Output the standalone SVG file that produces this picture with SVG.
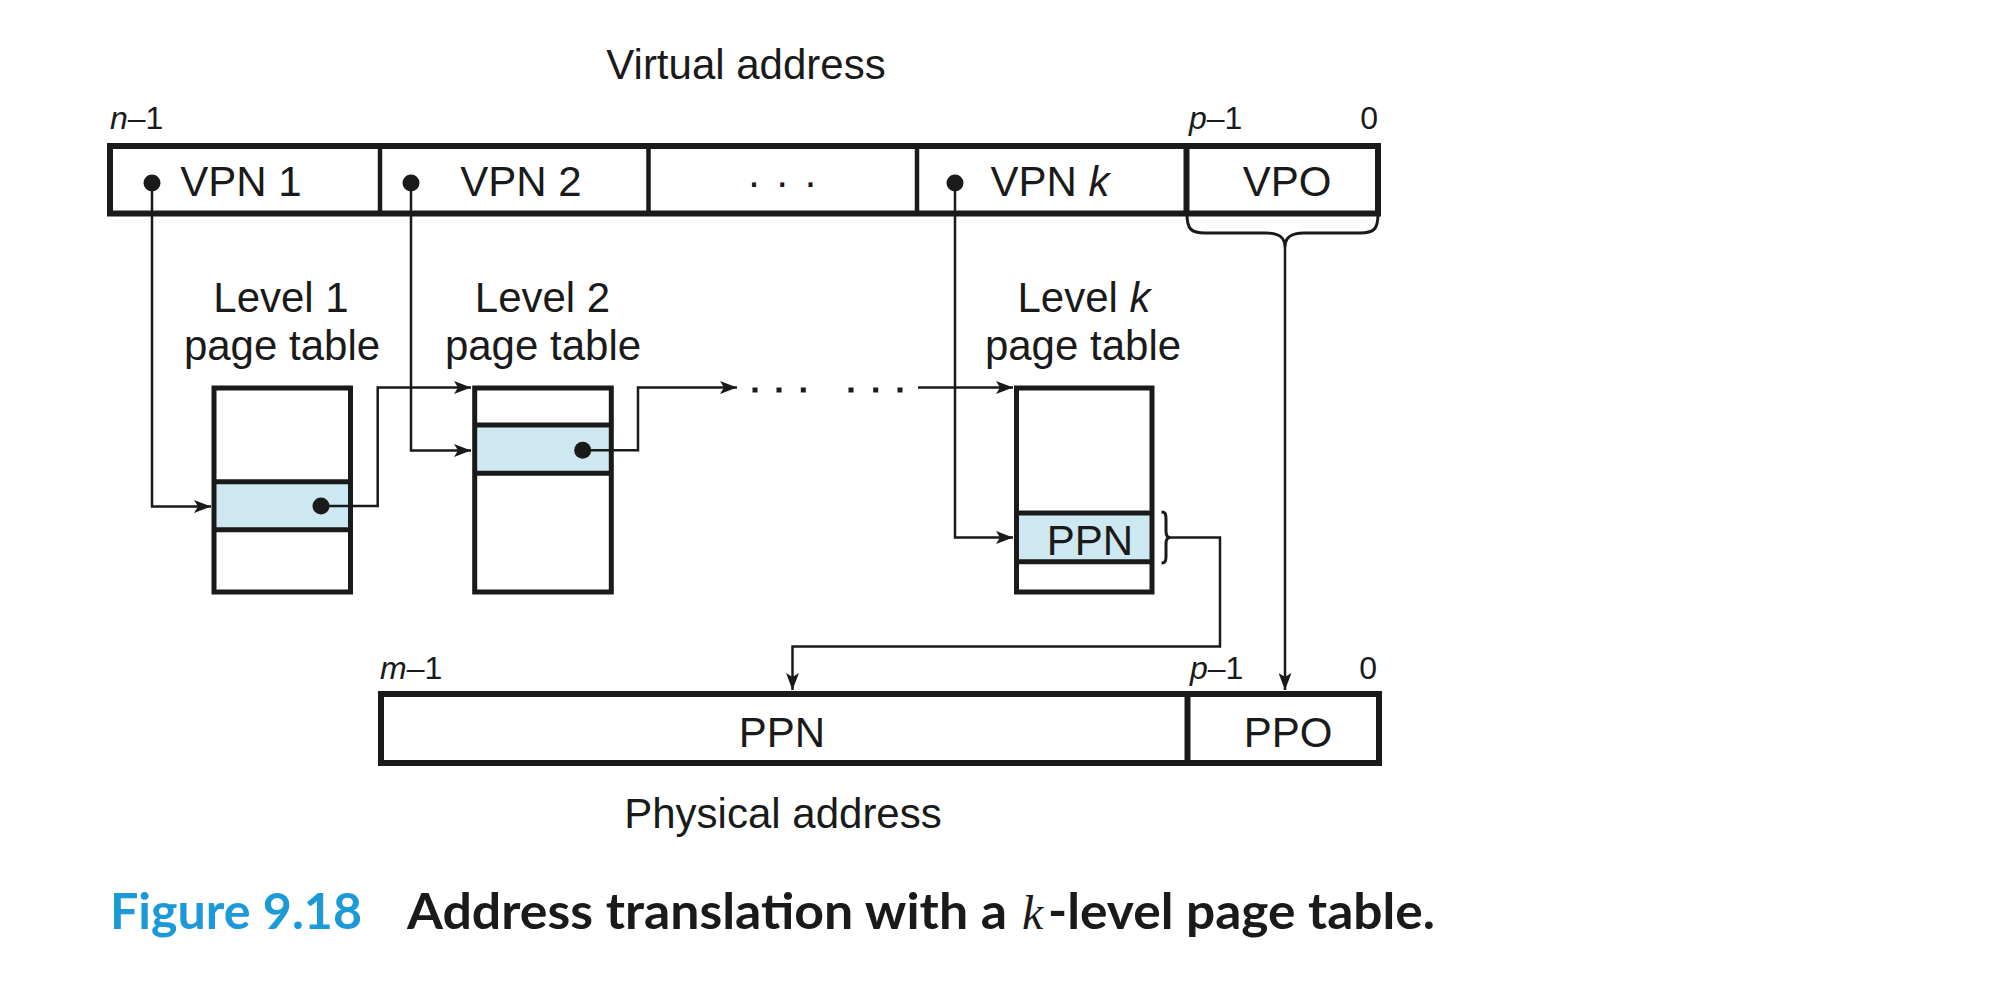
<svg xmlns="http://www.w3.org/2000/svg" width="2006" height="984" viewBox="0 0 2006 984">
<defs>
<style>
.t{font-family:"Liberation Sans",Arial,sans-serif;font-size:42px;fill:#1a1a1a}
.m{text-anchor:middle}
.s{font-family:"Liberation Sans",Arial,sans-serif;font-size:32px;fill:#1a1a1a}
.i{font-style:italic}
.box{fill:none;stroke:#1a1a1a;stroke-width:6}
.div{stroke:#1a1a1a;stroke-width:4.5}
.divk{stroke:#1a1a1a;stroke-width:6}
.tb{fill:none;stroke:#1a1a1a;stroke-width:5}
.hl{fill:#cde8f0}
.c{fill:none;stroke:#1a1a1a;stroke-width:2.5}
.br{fill:none;stroke:#1a1a1a;stroke-width:3}
.dot{fill:#1a1a1a}
.cap{font-family:Lato,"Open Sans",sans-serif;font-weight:700;font-size:50px}
</style>
<marker id="ah" viewBox="0 0 17 13" refX="17" refY="6.5" markerWidth="17" markerHeight="13" markerUnits="userSpaceOnUse" orient="auto">
<path d="M0,0 L17,6.5 L0,13 L4,6.5 Z" fill="#1a1a1a"/>
</marker>
</defs>
<rect width="2006" height="984" fill="#fff"/>

<g id="virtual-address">
<text class="t m" x="746" y="79">Virtual address</text>
<text class="s" x="110" y="129"><tspan class="i">n</tspan>–1</text>
<text class="s" x="1189" y="129"><tspan class="i">p</tspan>–1</text>
<text class="s" x="1378" y="129" text-anchor="end">0</text>
<rect class="box" x="110" y="146" width="1268" height="67.5"/>
<line class="div" x1="380" y1="148" x2="380" y2="212"/>
<line class="div" x1="648.5" y1="148" x2="648.5" y2="212"/>
<line class="div" x1="917" y1="148" x2="917" y2="212"/>
<line class="divk" x1="1186.5" y1="148" x2="1186.5" y2="212"/>
<circle class="dot" cx="152" cy="183" r="8.5"/>
<text class="t m" x="241" y="196">VPN 1</text>
<circle class="dot" cx="411" cy="183" r="8.5"/>
<text class="t m" x="521" y="196">VPN 2</text>
<text class="t m" x="783" y="196" letter-spacing="1.3">· · ·</text>
<circle class="dot" cx="955" cy="183" r="8.5"/>
<text class="t m" x="1050" y="196">VPN <tspan class="i">k</tspan></text>
<text class="t m" x="1287" y="196">VPO</text>
<path class="br" d="M1187,214 C1187,229 1191,233 1205,233 L1266,233 C1279,233 1285,237 1285,247 C1285,237 1291,233 1304,233 L1360,233 C1374,233 1378,229 1378,214"/>
</g>

<g id="level1-table">
<text class="t m" x="281" y="312">Level 1</text>
<text class="t m" x="282" y="360">page table</text>
<rect class="hl" x="214" y="481.7" width="136.5" height="48"/>
<rect class="tb" x="214" y="388" width="136.5" height="204"/>
<line class="tb" x1="214" y1="481.7" x2="350.5" y2="481.7"/>
<line class="tb" x1="214" y1="529.8" x2="350.5" y2="529.8"/>
<circle class="dot" cx="321" cy="506" r="8.5"/>
</g>

<g id="level2-table">
<text class="t m" x="542.5" y="312">Level 2</text>
<text class="t m" x="543" y="360">page table</text>
<rect class="hl" x="474.7" y="425" width="136.6" height="48.3"/>
<rect class="tb" x="474.7" y="388" width="136.6" height="204"/>
<line class="tb" x1="474.7" y1="425" x2="611.3" y2="425"/>
<line class="tb" x1="474.7" y1="473.3" x2="611.3" y2="473.3"/>
<circle class="dot" cx="582.7" cy="450.3" r="8.5"/>
</g>

<g id="levelk-table">
<text class="t m" x="1084" y="312">Level <tspan class="i">k</tspan></text>
<text class="t m" x="1083" y="360">page table</text>
<rect class="hl" x="1016.5" y="513" width="135.5" height="48.7"/>
<rect class="tb" x="1016.5" y="388" width="135.5" height="204"/>
<line class="tb" x1="1016.5" y1="513" x2="1152" y2="513"/>
<line class="tb" x1="1016.5" y1="561.7" x2="1152" y2="561.7"/>
<text class="t m" x="1090" y="555">PPN</text>
<path class="br" d="M1161.5,512 C1166,512 1166,515 1166,520 L1166,531 C1166,535 1167,537.5 1170,537.5 C1167,537.5 1166,540 1166,544 L1166,555 C1166,560 1166,563 1161.5,563"/>
</g>

<g id="physical-address">
<text class="s" x="380" y="679"><tspan class="i">m</tspan>–1</text>
<text class="s" x="1190" y="679"><tspan class="i">p</tspan>–1</text>
<text class="s" x="1377" y="679" text-anchor="end">0</text>
<rect class="box" x="381" y="694" width="998" height="69"/>
<line class="divk" x1="1187.5" y1="696" x2="1187.5" y2="761"/>
<text class="t m" x="782" y="747">PPN</text>
<text class="t m" x="1288" y="747">PPO</text>
<text class="t m" x="783" y="828">Physical address</text>
</g>

<g id="connectors">
<path class="c" d="M152,183 V506.5 H211" marker-end="url(#ah)"/>
<path class="c" d="M321,506 H377.7 V387.5 H471" marker-end="url(#ah)"/>
<path class="c" d="M411,183 V450.5 H471" marker-end="url(#ah)"/>
<path class="c" d="M582.7,450.3 H638 V387.5 H737" marker-end="url(#ah)"/>
<rect class="dot" x="752.5" y="387.5" width="5" height="5"/>
<rect class="dot" x="776.5" y="387.5" width="5" height="5"/>
<rect class="dot" x="800.8" y="387.5" width="5" height="5"/>
<rect class="dot" x="848.5" y="387.5" width="5" height="5"/>
<rect class="dot" x="873.2" y="387.5" width="5" height="5"/>
<rect class="dot" x="897.5" y="387.5" width="5" height="5"/>
<path class="c" d="M918,387.5 H1013" marker-end="url(#ah)"/>
<path class="c" d="M955,183 V537.5 H1013" marker-end="url(#ah)"/>
<path class="c" d="M1170,537.5 H1220 V646.5 H792.5 V690" marker-end="url(#ah)"/>
<path class="c" d="M1285,247 V690" marker-end="url(#ah)"/>
</g>

<g id="caption">
<text class="cap" x="110" y="929" fill="#1b9ad7" textLength="252" lengthAdjust="spacingAndGlyphs">Figure 9.18</text>
<text class="cap" x="407" y="929" fill="#1a1a1a" textLength="600" lengthAdjust="spacingAndGlyphs">Address translation with a</text>
<text x="1022" y="929" fill="#1a1a1a" font-family="'Liberation Serif',serif" font-style="italic" font-size="48">k</text>
<text class="cap" x="1048" y="929" fill="#1a1a1a" textLength="387" lengthAdjust="spacingAndGlyphs">-level page table.</text>
</g>
</svg>
